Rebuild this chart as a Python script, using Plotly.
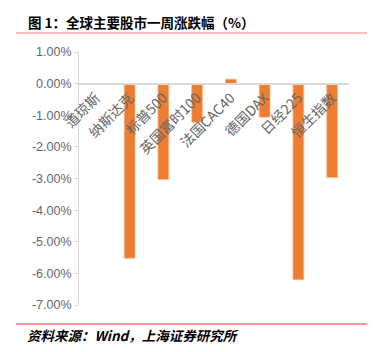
import plotly.graph_objects as go

categories = ["道琼斯", "纳斯达克", "标普500", "英国富时100", "法国CAC40", "德国DAX", "日经225", "恒生指数"]
changes_pct = [-0.02, -5.52, -3.03, -1.22, 0.14, -1.06, -6.20, -2.97]
y_tick_vals = [1, 0, -1, -2, -3, -4, -5, -6, -7]
y_tick_text = ["1.00%", "0.00%", "-1.00%", "-2.00%", "-3.00%", "-4.00%", "-5.00%", "-6.00%", "-7.00%"]

W, H = 376, 352
L, R, T, B = 79, 27, 52, 47
pw, ph = W - L - R, H - T - B

def px(x):
    return (x - L) / pw

def py(y):
    return (H - B - y) / ph

fig = go.Figure()
fig.add_trace(go.Bar(
    x=categories, y=changes_pct,
    marker=dict(color="#ed7d31", line=dict(color="#f6b98f", width=0.8)),
    width=0.32,
))

ymin, ymax = -7, 1
fig.update_layout(
    width=W, height=H,
    margin=dict(l=L, r=R, t=T, b=B),
    paper_bgcolor="white", plot_bgcolor="white",
    showlegend=False,
    font=dict(family="Noto Sans CJK SC, Noto Sans, sans-serif", color="#595959"),
    xaxis=dict(
        anchor="free", position=(0 - ymin) / (ymax - ymin),
        showline=True, linecolor="#d9d9d9", linewidth=1.5,
        showgrid=False, ticks="", tickangle=-45,
        tickfont=dict(size=14, color="#666666"),
    ),
    yaxis=dict(
        range=[ymin, ymax], tickvals=y_tick_vals, ticktext=y_tick_text,
        showgrid=False, zeroline=False,
        showline=True, linecolor="#d9d9d9", linewidth=1,
        ticks="outside", ticklen=4, tickcolor="#d9d9d9",
        tickfont=dict(size=12.5, color="#666666", family="Liberation Sans, Arial, sans-serif"),
    ),
)

fig.add_annotation(
    text="<b>图 1：全球主要股市一周涨跌幅（%）</b>",
    xref="paper", yref="paper", x=px(26), y=py(22),
    xanchor="left", yanchor="middle", showarrow=False,
    font=dict(size=13.5, color="#000000", family="Noto Sans CJK SC, sans-serif"),
)
fig.add_shape(type="line", xref="paper", yref="paper",
              x0=px(16), x1=px(367), y0=py(33), y1=py(33),
              line=dict(color="#f08080", width=1.2))
fig.add_shape(type="line", xref="paper", yref="paper",
              x0=px(16), x1=px(367), y0=py(324), y1=py(324),
              line=dict(color="#e83030", width=1.2))
fig.add_annotation(
    text="<b><i>资料来源：Wind，上海证券研究所</i></b>",
    xref="paper", yref="paper", x=px(25), y=py(335),
    xanchor="left", yanchor="middle", showarrow=False,
    font=dict(size=13.5, color="#000000", family="Noto Sans CJK SC, sans-serif"),
)

fig.write_html("out.html")
